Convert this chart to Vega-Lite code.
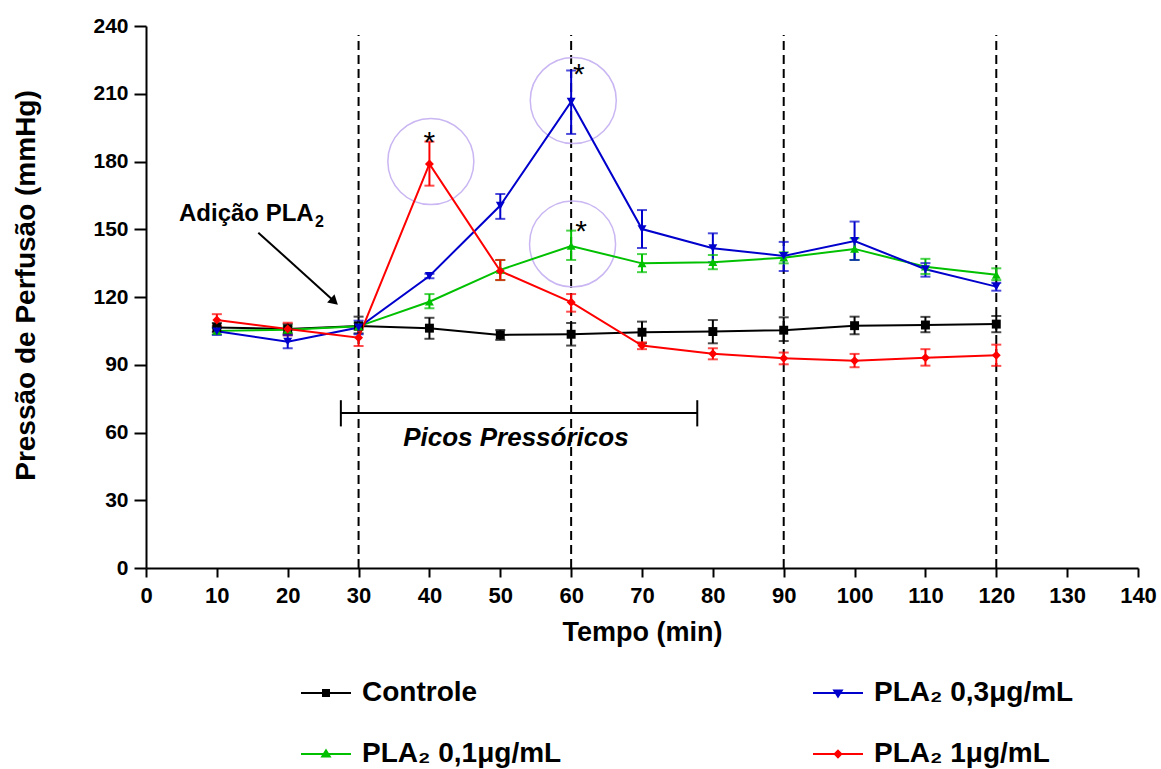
{
  "$schema": "https://vega.github.io/schema/vega-lite/v6.json",
  "width": 992,
  "height": 542,
  "autosize": {"type": "none"},
  "padding": {"left": 146, "top": 26, "right": 23, "bottom": 201},
  "background": "white",
  "config": {
    "view": {"stroke": null},
    "font": "Liberation Sans",
    "axis": {"grid": false, "domainColor": "black", "domainWidth": 2, "tickColor": "black", "tickWidth": 2,
      "labelFont": "Liberation Sans", "labelFontWeight": "bold", "labelColor": "black", "labelFlush": false, "labelOverlap": false,
      "titleFont": "Liberation Sans", "titleFontWeight": "bold", "titleColor": "black"},
    "axisX": {"tickSize": 9, "labelFontSize": 22, "labelPadding": 8, "titleFontSize": 27, "titlePadding": 13},
    "axisY": {"tickSize": 12, "labelFontSize": 21, "labelPadding": 6, "titleFontSize": 28, "titlePadding": 52}
  },
  "datasets": {
    "pts": [
      {"t": 10, "s": "Controle", "v": 106.5, "lo": 104.5, "hi": 108.5},
      {"t": 20, "s": "Controle", "v": 105.8, "lo": 103.5, "hi": 108},
      {"t": 30, "s": "Controle", "v": 107.2, "lo": 103.9, "hi": 111.3},
      {"t": 40, "s": "Controle", "v": 106.2, "lo": 101.5, "hi": 110.8},
      {"t": 50, "s": "Controle", "v": 103.2, "lo": 101, "hi": 105.4},
      {"t": 60, "s": "Controle", "v": 103.5, "lo": 98.5, "hi": 108.5},
      {"t": 70, "s": "Controle", "v": 104.4, "lo": 99.5, "hi": 109.1},
      {"t": 80, "s": "Controle", "v": 104.7, "lo": 99.5, "hi": 109.8},
      {"t": 90, "s": "Controle", "v": 105.3, "lo": 100.5, "hi": 111},
      {"t": 100, "s": "Controle", "v": 107.3, "lo": 103.5, "hi": 111.3},
      {"t": 110, "s": "Controle", "v": 107.6, "lo": 104.4, "hi": 111.2},
      {"t": 120, "s": "Controle", "v": 108, "lo": 104.4, "hi": 111.6},
      {"t": 10, "s": "PLA₂ 0,1μg/mL", "v": 105, "lo": 103.5, "hi": 106.5},
      {"t": 20, "s": "PLA₂ 0,1μg/mL", "v": 105.5, "lo": 104, "hi": 107},
      {"t": 30, "s": "PLA₂ 0,1μg/mL", "v": 107, "lo": 105.5, "hi": 108.5},
      {"t": 40, "s": "PLA₂ 0,1μg/mL", "v": 117.9, "lo": 115, "hi": 121.3},
      {"t": 50, "s": "PLA₂ 0,1μg/mL", "v": 132, "lo": 127.5, "hi": 136.4},
      {"t": 60, "s": "PLA₂ 0,1μg/mL", "v": 142.6, "lo": 136.4, "hi": 149.4},
      {"t": 70, "s": "PLA₂ 0,1μg/mL", "v": 134.9, "lo": 131, "hi": 139},
      {"t": 80, "s": "PLA₂ 0,1μg/mL", "v": 135.4, "lo": 132.3, "hi": 138.6},
      {"t": 90, "s": "PLA₂ 0,1μg/mL", "v": 137.4, "lo": 134.9, "hi": 139.8},
      {"t": 100, "s": "PLA₂ 0,1μg/mL", "v": 141.3, "lo": 136.4, "hi": 146},
      {"t": 110, "s": "PLA₂ 0,1μg/mL", "v": 133.4, "lo": 130.2, "hi": 136.9},
      {"t": 120, "s": "PLA₂ 0,1μg/mL", "v": 129.8, "lo": 127.5, "hi": 132.7},
      {"t": 10, "s": "PLA₂ 0,3μg/mL", "v": 104.8, "lo": 103.2, "hi": 106.4},
      {"t": 20, "s": "PLA₂ 0,3μg/mL", "v": 100.2, "lo": 97.3, "hi": 103.1},
      {"t": 30, "s": "PLA₂ 0,3μg/mL", "v": 106.5, "lo": 103.5, "hi": 109.5},
      {"t": 40, "s": "PLA₂ 0,3μg/mL", "v": 129.3, "lo": 128.3, "hi": 130.3},
      {"t": 50, "s": "PLA₂ 0,3μg/mL", "v": 160.5, "lo": 154.6, "hi": 165.6},
      {"t": 60, "s": "PLA₂ 0,3μg/mL", "v": 206.5, "lo": 192.2, "hi": 220.3},
      {"t": 70, "s": "PLA₂ 0,3μg/mL", "v": 150.1, "lo": 141.7, "hi": 158.5},
      {"t": 80, "s": "PLA₂ 0,3μg/mL", "v": 141.6, "lo": 135.4, "hi": 148.2},
      {"t": 90, "s": "PLA₂ 0,3μg/mL", "v": 138.2, "lo": 131.5, "hi": 144.4},
      {"t": 100, "s": "PLA₂ 0,3μg/mL", "v": 144.8, "lo": 136.4, "hi": 153.4},
      {"t": 110, "s": "PLA₂ 0,3μg/mL", "v": 132.3, "lo": 129, "hi": 135},
      {"t": 120, "s": "PLA₂ 0,3μg/mL", "v": 124.6, "lo": 122.8, "hi": 126.3},
      {"t": 10, "s": "PLA₂ 1μg/mL", "v": 109.8, "lo": 107.2, "hi": 112.4},
      {"t": 20, "s": "PLA₂ 1μg/mL", "v": 105.8, "lo": 103, "hi": 108.6},
      {"t": 30, "s": "PLA₂ 1μg/mL", "v": 102, "lo": 98.3, "hi": 105.7},
      {"t": 40, "s": "PLA₂ 1μg/mL", "v": 178.9, "lo": 169.3, "hi": 188.8},
      {"t": 50, "s": "PLA₂ 1μg/mL", "v": 131.5, "lo": 127.5, "hi": 136.4},
      {"t": 60, "s": "PLA₂ 1μg/mL", "v": 117.7, "lo": 113.5, "hi": 121.3},
      {"t": 70, "s": "PLA₂ 1μg/mL", "v": 98.5, "lo": 96.9, "hi": 99.9},
      {"t": 80, "s": "PLA₂ 1μg/mL", "v": 94.9, "lo": 92.4, "hi": 97.3},
      {"t": 90, "s": "PLA₂ 1μg/mL", "v": 92.9, "lo": 90.2, "hi": 95.4},
      {"t": 100, "s": "PLA₂ 1μg/mL", "v": 91.8, "lo": 88.9, "hi": 94.8},
      {"t": 110, "s": "PLA₂ 1μg/mL", "v": 93.1, "lo": 89.6, "hi": 96.9},
      {"t": 120, "s": "PLA₂ 1μg/mL", "v": 94.2, "lo": 89.5, "hi": 98.9}
    ]
  },
  "layer": [
    {
      "data": {"values": [{"t": 30}, {"t": 60}, {"t": 90}, {"t": 120}]},
      "mark": {"type": "rule", "strokeDash": [9, 5], "strokeWidth": 2, "color": "black"},
      "encoding": {
        "x": {"field": "t", "type": "quantitative",
          "scale": {"domain": [0, 140], "nice": false, "zero": false},
          "axis": {"title": "Tempo (min)", "values": [0, 10, 20, 30, 40, 50, 60, 70, 80, 90, 100, 110, 120, 130, 140]}},
        "y": {"datum": 0, "type": "quantitative",
          "scale": {"domain": [0, 240], "nice": false, "zero": false},
          "axis": {"title": "Pressão de Perfusão (mmHg)", "values": [0, 30, 60, 90, 120, 150, 180, 210, 240], "titleY": 259}},
        "y2": {"datum": 236}
      }
    },
    {
      "data": {"values": [{"t": 40.2, "v": 180}, {"t": 60.3, "v": 207}, {"t": 60.2, "v": 143.5}]},
      "mark": {"type": "point", "shape": "circle", "size": 7400, "filled": false, "stroke": "#c9b6f2", "strokeWidth": 1.5, "opacity": 1},
      "encoding": {
        "x": {"field": "t", "type": "quantitative"},
        "y": {"field": "v", "type": "quantitative"}
      }
    },
    {
      "data": {"name": "pts"},
      "mark": {"type": "rule", "strokeWidth": 2},
      "encoding": {
        "x": {"field": "t", "type": "quantitative"},
        "y": {"field": "lo", "type": "quantitative"},
        "y2": {"field": "hi"},
        "color": {"field": "s", "type": "nominal", "legend": null,
          "scale": {"domain": ["Controle", "PLA₂ 0,1μg/mL", "PLA₂ 0,3μg/mL", "PLA₂ 1μg/mL"],
            "range": ["#000000", "#00c000", "#0000cc", "#ff0000"]}}
      }
    },
    {
      "data": {"name": "pts"},
      "mark": {"type": "tick", "orient": "horizontal", "size": 10, "thickness": 2},
      "encoding": {
        "x": {"field": "t", "type": "quantitative"},
        "y": {"field": "lo", "type": "quantitative"},
        "color": {"field": "s", "type": "nominal", "legend": null}
      }
    },
    {
      "data": {"name": "pts"},
      "mark": {"type": "tick", "orient": "horizontal", "size": 10, "thickness": 2},
      "encoding": {
        "x": {"field": "t", "type": "quantitative"},
        "y": {"field": "hi", "type": "quantitative"},
        "color": {"field": "s", "type": "nominal", "legend": null}
      }
    },
    {
      "data": {"name": "pts"},
      "mark": {"type": "line", "strokeWidth": 2},
      "encoding": {
        "x": {"field": "t", "type": "quantitative"},
        "y": {"field": "v", "type": "quantitative"},
        "color": {"field": "s", "type": "nominal", "legend": null}
      }
    },
    {
      "data": {"name": "pts"},
      "mark": {"type": "point", "filled": true, "opacity": 1, "size": 80},
      "encoding": {
        "x": {"field": "t", "type": "quantitative"},
        "y": {"field": "v", "type": "quantitative"},
        "color": {"field": "s", "type": "nominal", "legend": null},
        "shape": {"field": "s", "type": "nominal", "legend": null,
          "scale": {"domain": ["Controle", "PLA₂ 0,1μg/mL", "PLA₂ 0,3μg/mL", "PLA₂ 1μg/mL"],
            "range": ["square", "triangle-up", "triangle-down", "diamond"]}}
      }
    },
    {
      "data": {"values": []},
      "mark": {"type": "point", "filled": false, "opacity": 1, "strokeWidth": 2},
      "encoding": {
        "shape": {"field": "s", "type": "nominal",
          "scale": {"domain": ["Controle", "PLA₂ 0,3μg/mL", "PLA₂ 0,1μg/mL", "PLA₂ 1μg/mL"],
            "range": [
              "M-1,0H1M-0.12,-0.12H0.12V0.12H-0.12ZM-0.06,-0.06H0.06V0.06H-0.06ZM-0.01,-0.01H0.01V0.01H-0.01Z",
              "M-1,0H1M-0.15,-0.1L0.15,-0.1L0,0.14ZM-0.0675,-0.056L0.0675,-0.056L0,0.052ZM-0.015,-0.028L0.015,-0.028L0,-0.004Z",
              "M-1,0H1M-0.15,0.1L0.15,0.1L0,-0.14ZM-0.0675,0.056L0.0675,0.056L0,-0.052ZM-0.015,0.028L0.015,0.028L0,0.004Z",
              "M-1,0H1M0,-0.13L0.13,0L0,0.13L-0.13,0ZM0,-0.07L0.07,0L0,0.07L-0.07,0ZM0,-0.02L0.02,0L0,0.02L-0.02,0Z"]},
          "legend": {"title": null, "orient": "none", "legendX": 154, "legendY": 641, "columns": 2, "direction": "horizontal",
            "columnPadding": 247, "rowPadding": 21, "padding": 0, "symbolSize": 2500, "symbolStrokeWidth": 2,
            "labelFont": "Liberation Sans", "labelFontWeight": "bold", "labelFontSize": 28, "labelColor": "black",
            "labelOffset": 10, "labelLimit": 400}
        },
        "stroke": {"field": "s", "type": "nominal",
          "scale": {"domain": ["Controle", "PLA₂ 0,3μg/mL", "PLA₂ 0,1μg/mL", "PLA₂ 1μg/mL"],
            "range": ["#000000", "#0000cc", "#00c000", "#ff0000"]},
          "legend": {"title": null, "orient": "none", "legendX": 154, "legendY": 641, "columns": 2, "direction": "horizontal",
            "columnPadding": 247, "rowPadding": 21, "padding": 0, "symbolSize": 2500, "symbolStrokeWidth": 2,
            "labelFont": "Liberation Sans", "labelFontWeight": "bold", "labelFontSize": 28, "labelColor": "black",
            "labelOffset": 10, "labelLimit": 400}
        }
      }
    },
    {
      "data": {"values": [{"t": 40, "v": 184.2}, {"t": 61.1, "v": 214.4}, {"t": 61.4, "v": 144.8}]},
      "mark": {"type": "text", "text": "*", "fontSize": 30, "font": "Liberation Sans", "align": "center", "baseline": "alphabetic", "color": "black"},
      "encoding": {
        "x": {"field": "t", "type": "quantitative"},
        "y": {"field": "v", "type": "quantitative"}
      }
    },
    {
      "data": {"values": [{"t": 4.66, "v": 153.8, "label": "Adição PLA"}]},
      "mark": {"type": "text", "fontSize": 24, "fontWeight": "bold", "font": "Liberation Sans", "align": "left", "baseline": "alphabetic", "color": "black"},
      "encoding": {
        "x": {"field": "t", "type": "quantitative"},
        "y": {"field": "v", "type": "quantitative"},
        "text": {"field": "label"}
      }
    },
    {
      "data": {"values": [{"t": 23.85, "v": 151.2, "label": "2"}]},
      "mark": {"type": "text", "fontSize": 16, "fontWeight": "bold", "font": "Liberation Sans", "align": "left", "baseline": "alphabetic", "color": "black"},
      "encoding": {
        "x": {"field": "t", "type": "quantitative"},
        "y": {"field": "v", "type": "quantitative"},
        "text": {"field": "label"}
      }
    },
    {
      "data": {"values": [{"t": 52.2, "v": 54.0, "label": "Picos Pressóricos"}]},
      "mark": {"type": "text", "fontSize": 26, "fontWeight": "bold", "fontStyle": "italic", "font": "Liberation Sans", "align": "center", "baseline": "alphabetic", "color": "black"},
      "encoding": {
        "x": {"field": "t", "type": "quantitative"},
        "y": {"field": "v", "type": "quantitative"},
        "text": {"field": "label"}
      }
    },
    {
      "data": {"values": [
        {"x": 15.85, "y": 148.5, "x2": 26.4, "y2": 118.6},
        {"x": 27.5, "y": 68.6, "x2": 77.8, "y2": 68.6},
        {"x": 27.5, "y": 74.3, "x2": 27.5, "y2": 62.7},
        {"x": 77.8, "y": 74.3, "x2": 77.8, "y2": 62.7}
      ]},
      "mark": {"type": "rule", "strokeWidth": 2, "color": "black"},
      "encoding": {
        "x": {"field": "x", "type": "quantitative"},
        "y": {"field": "y", "type": "quantitative"},
        "x2": {"field": "x2"},
        "y2": {"field": "y2"}
      }
    },
    {
      "data": {"values": [{"x": 26.58, "y": 118.0}]},
      "mark": {"type": "point", "shape": "triangle-right", "angle": 42, "size": 120, "filled": true, "color": "black", "opacity": 1},
      "encoding": {
        "x": {"field": "x", "type": "quantitative"},
        "y": {"field": "y", "type": "quantitative"}
      }
    }
  ],
  "resolve": {"scale": {"shape": "independent", "stroke": "independent"}}
}
